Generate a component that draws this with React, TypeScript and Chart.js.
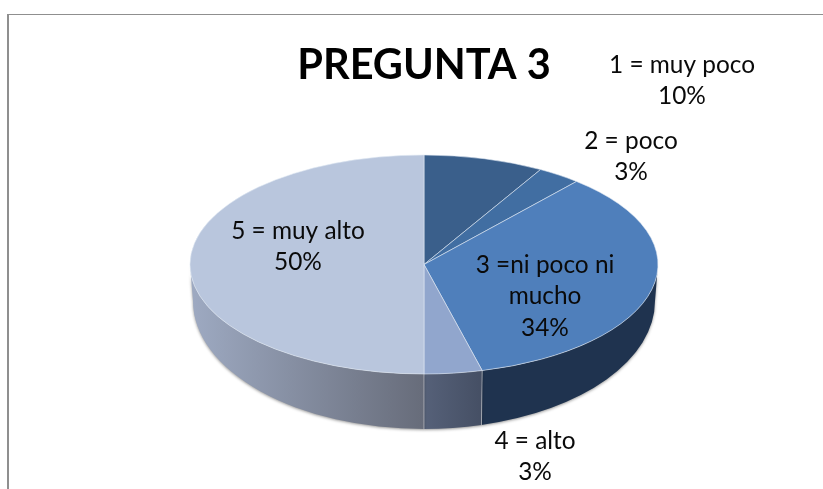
import React, { useEffect, useRef } from "react";
import { Chart, registerables } from "chart.js";

Chart.register(...registerables);

const categories = ["1 = muy poco", "2 = poco", "3 =ni poco ni mucho", "4 = alto", "5 = muy alto"];
const sliceValues = [8.3, 3, 34.7, 4, 50];
const labelLines = [
  ["1 = muy poco", "10%"],
  ["2 = poco", "3%"],
  ["3 =ni poco ni", "mucho", "34%"],
  ["4 = alto", "3%"],
  ["5 = muy alto", "50%"],
];
const topColors = ["#3a5f8b", "#416ea2", "#4f7fbb", "#91a6cd", "#b9c6dd"];
const wallStops = [
  ["#2a4362", "#2a4362"],
  ["#2f4a6d", "#2f4a6d"],
  ["#1f334f", "#1f334f"],
  ["#566179", "#454f64"],
  ["#9eaac2", "#676c7a"],
];
const labelAnchors = [
  [682, 65],
  [631, 141],
  [545, 265],
  [535, 441],
  [298, 231],
];

const TOP = { cx: 424, cy: 264.5, rx: 234, ry: 109.5 };
const BASE = { cx: 424, cy: 301, rx: 231, ry: 128 };
const FONT = "Lato, Carlito, sans-serif";

const pie3d = {
  id: "pie3d",
  beforeDatasetsDraw(chart: any) {
    const { ctx } = chart;
    const arcs = chart.getDatasetMeta(0).data;
    arcs.forEach((arc: any, i: number) => {
      const a = Math.max(arc.startAngle, 0);
      const b = Math.min(arc.endAngle, Math.PI);
      if (b <= a) return;
      const xa = TOP.cx + TOP.rx * Math.cos(b);
      const xb = TOP.cx + TOP.rx * Math.cos(a);
      const grad = ctx.createLinearGradient(xa, 0, xb, 0);
      grad.addColorStop(0, wallStops[i][0]);
      grad.addColorStop(1, wallStops[i][1]);
      ctx.save();
      ctx.beginPath();
      ctx.ellipse(TOP.cx, TOP.cy, TOP.rx, TOP.ry, 0, a, b, false);
      ctx.ellipse(BASE.cx, BASE.cy, BASE.rx, BASE.ry, 0, b, a, true);
      ctx.closePath();
      ctx.shadowColor = "rgba(0,0,0,0.4)";
      ctx.shadowBlur = 3;
      ctx.shadowOffsetY = 1;
      ctx.fillStyle = grad;
      ctx.fill();
      ctx.restore();
    });
    arcs.forEach((arc: any) => {
      const t = arc.endAngle;
      if (t <= 0 || t >= Math.PI) return;
      ctx.save();
      ctx.beginPath();
      ctx.moveTo(TOP.cx + TOP.rx * Math.cos(t), TOP.cy + TOP.ry * Math.sin(t));
      ctx.lineTo(BASE.cx + BASE.rx * Math.cos(t), BASE.cy + BASE.ry * Math.sin(t));
      ctx.strokeStyle = "rgba(255,255,255,0.45)";
      ctx.lineWidth = 1;
      ctx.stroke();
      ctx.restore();
    });
    const c = arcs[0];
    ctx.save();
    ctx.translate(TOP.cx, TOP.cy);
    ctx.scale(TOP.rx / c.outerRadius, TOP.ry / c.outerRadius);
    ctx.translate(-c.x, -c.y);
  },
  afterDatasetsDraw(chart: any) {
    const { ctx } = chart;
    ctx.restore();
    ctx.save();
    ctx.font = `24.4px ${FONT}`;
    ctx.fillStyle = "#0a0a0a";
    ctx.textAlign = "center";
    ctx.textBaseline = "middle";
    labelLines.forEach((lines, i) => {
      lines.forEach((line, j) => {
        ctx.fillText(line, labelAnchors[i][0], labelAnchors[i][1] + j * 31.5);
      });
    });
    ctx.restore();
  },
};

export default function App() {
  const ref = useRef<HTMLCanvasElement>(null);
  useEffect(() => {
    const chart = new Chart(ref.current!, {
      type: "pie",
      data: {
        labels: categories,
        datasets: [
          {
            data: sliceValues,
            backgroundColor: topColors,
            borderColor: "rgba(225,232,243,0.8)",
            borderWidth: 1,
            radius: 234,
            clip: false,
          } as any,
        ],
      },
      options: {
        responsive: false,
        animation: false,
        layout: { padding: { left: 190, right: 165, top: 0, bottom: 0 } },
        plugins: {
          legend: { display: false },
          tooltip: { enabled: false },
          title: {
            display: true,
            text: "PREGUNTA 3",
            fullSize: false,
            color: "#000000",
            font: { family: FONT, size: 41.5, weight: "bold" },
            padding: { top: 41, bottom: 10 },
          },
        },
      } as any,
      plugins: [pie3d],
    });
    return () => chart.destroy();
  }, []);
  return (
    <div style={{ position: "absolute", left: 0, top: 0, width: 823, height: 489, background: "#fff", overflow: "hidden" }}>
      <div
        style={{
          position: "absolute",
          left: 7,
          top: 14,
          width: 830,
          height: 490,
          borderLeft: "2px solid #8f8f8f",
          borderTop: "1.5px solid #8f8f8f",
        }}
      />
      <canvas ref={ref} width={823} height={489} style={{ position: "absolute", left: 0, top: 0, display: "block" }} />
    </div>
  );
}
